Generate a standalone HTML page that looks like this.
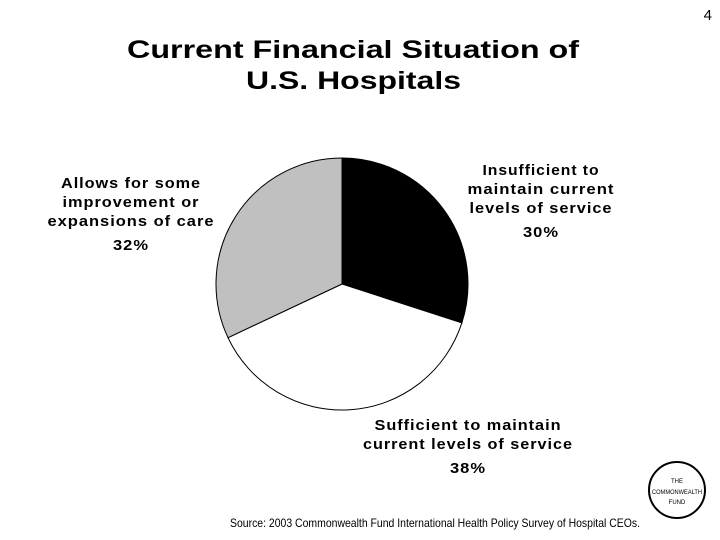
<!DOCTYPE html>
<html><head><meta charset="utf-8"><style>
body{margin:0;background:#fff;}
svg{display:block;font-family:"Liberation Sans",Arial,sans-serif;}
.lbl{font-weight:bold;font-size:15px;letter-spacing:0.9px;text-anchor:middle;fill:#000;}
</style></head><body>
<svg width="720" height="540" viewBox="0 0 720 540">
<text x="712" y="20" font-size="15" text-anchor="end">4</text>
<text x="127" y="58" font-size="25" font-weight="bold" textLength="452" lengthAdjust="spacingAndGlyphs">Current Financial Situation of</text>
<text x="246" y="89" font-size="25" font-weight="bold" textLength="215" lengthAdjust="spacingAndGlyphs">U.S. Hospitals</text>
<g id="pie"></g>
<g>
<text class="lbl" x="541" y="175" textLength="117" lengthAdjust="spacingAndGlyphs">Insufficient to</text>
<text class="lbl" x="541" y="194" textLength="147" lengthAdjust="spacingAndGlyphs">maintain current</text>
<text class="lbl" x="541" y="213" textLength="143" lengthAdjust="spacingAndGlyphs">levels of service</text>
<text class="lbl" x="541" y="237" textLength="36" lengthAdjust="spacingAndGlyphs">30%</text></g>
<g>
<text class="lbl" x="468" y="430" textLength="187" lengthAdjust="spacingAndGlyphs">Sufficient to maintain</text>
<text class="lbl" x="468" y="449" textLength="210" lengthAdjust="spacingAndGlyphs">current levels of service</text>
<text class="lbl" x="468" y="473" textLength="36" lengthAdjust="spacingAndGlyphs">38%</text></g>
<g>
<text class="lbl" x="131" y="188" textLength="140" lengthAdjust="spacingAndGlyphs">Allows for some</text>
<text class="lbl" x="131" y="207" textLength="137" lengthAdjust="spacingAndGlyphs">improvement or</text>
<text class="lbl" x="131" y="226" textLength="167" lengthAdjust="spacingAndGlyphs">expansions of care</text>
<text class="lbl" x="131" y="250" textLength="36" lengthAdjust="spacingAndGlyphs">32%</text></g>
<text x="230" y="527" font-size="12" textLength="410" lengthAdjust="spacingAndGlyphs">Source: 2003 Commonwealth Fund International Health Policy Survey of Hospital CEOs.</text>
<g>
<circle cx="677" cy="490" r="28" fill="none" stroke="#000" stroke-width="2"/>
<text x="677" y="483" font-size="6" text-anchor="middle">THE</text>
<text x="677" y="494" font-size="6" text-anchor="middle" textLength="50" lengthAdjust="spacingAndGlyphs">COMMONWEALTH</text>
<text x="677" y="504" font-size="6" text-anchor="middle">FUND</text></g>
</svg>
<script>
const categories=["Insufficient to maintain current levels of service","Sufficient to maintain current levels of service","Allows for some improvement or expansions of care"];
const values=[30,38,32];
const colors=["#000000","#ffffff","#c0c0c0"];
const cx=342,cy=284,r=126;
const g=document.getElementById('pie');
const total=values.reduce((a,b)=>a+b,0);
let acc=0;
function pt(f){const a=f*2*Math.PI;return [cx+r*Math.sin(a),cy-r*Math.cos(a)];}
values.forEach((v,i)=>{
  const f0=acc/total; acc+=v; const f1=acc/total;
  const [x0,y0]=pt(f0),[x1,y1]=pt(f1);
  const p=document.createElementNS('http://www.w3.org/2000/svg','path');
  p.setAttribute('d',`M${cx},${cy}L${x0},${y0}A${r},${r} 0 ${f1-f0>0.5?1:0} 1 ${x1},${y1}Z`);
  p.setAttribute('fill',colors[i]);
  p.setAttribute('stroke','#000');
  p.setAttribute('stroke-width','1');
  
  
  g.appendChild(p);
});
</script>
</body></html>
